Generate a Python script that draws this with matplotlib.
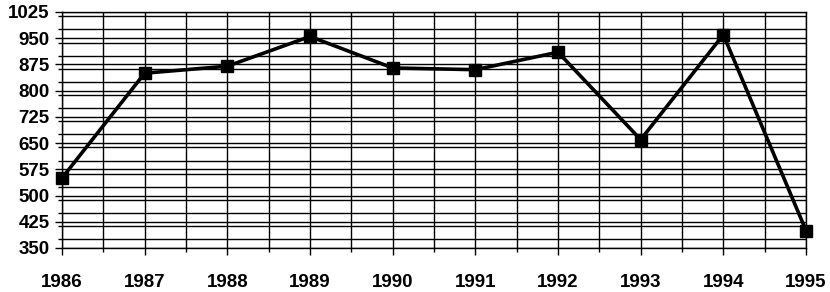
import matplotlib.pyplot as plt
from matplotlib.ticker import MultipleLocator

years = [1986, 1987, 1988, 1989, 1990, 1991, 1992, 1993, 1994, 1995]
values = [550, 850, 870, 955, 865, 860, 910, 660, 960, 400]
y_ticks = [350, 425, 500, 575, 650, 725, 800, 875, 950, 1025]

plt.rcParams['font.family'] = ['Liberation Sans', 'DejaVu Sans']

fig = plt.figure(figsize=(8.3, 2.92), dpi=100)
ax = fig.add_axes([62 / 830, 1 - 248 / 292, 744 / 830, 236 / 292])

ax.plot(years, values, color='black', lw=2.6, marker='s', ms=8,
        mfc='black', mec='black', zorder=3, clip_on=False)

ax.set_xlim(1986, 1995)
ax.set_ylim(350, 1025)
ax.set_xticks(years)
ax.set_yticks(y_ticks)
ax.xaxis.set_minor_locator(MultipleLocator(0.5))
ax.yaxis.set_minor_locator(MultipleLocator(37.5))
ax.grid(which='both', color='black', lw=1.0)
ax.set_axisbelow(True)

for s in ax.spines.values():
    s.set_color('black')
    s.set_linewidth(1.0)

ax.tick_params(which='major', direction='out', length=5, width=1.0,
               labelsize=13.5, pad=4)
ax.tick_params(axis='x', which='major', pad=14)
ax.tick_params(which='minor', direction='out', length=3, width=1.0)
for lab in ax.get_xticklabels() + ax.get_yticklabels():
    lab.set_fontweight('bold')

fig.savefig('out.png', dpi=100)
